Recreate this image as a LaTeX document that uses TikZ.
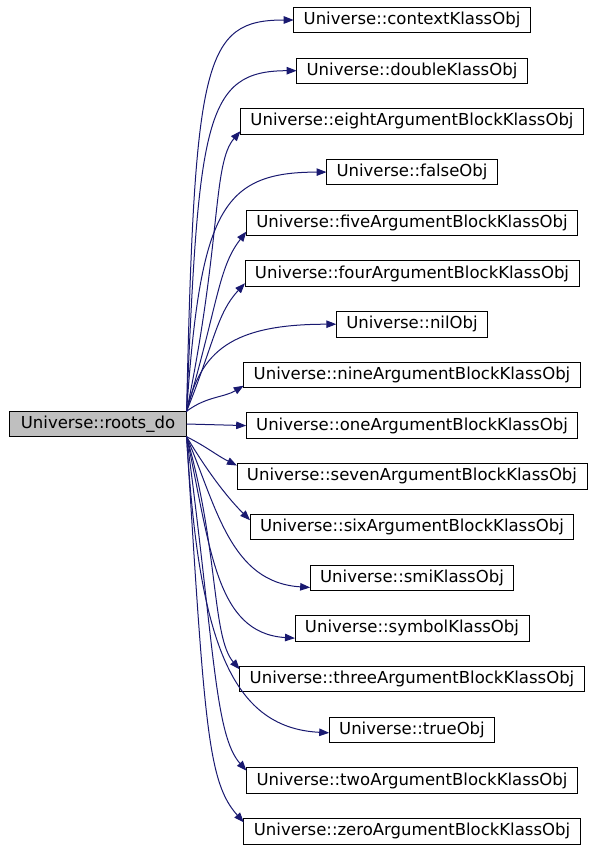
\documentclass[tikz,border=0pt]{standalone}
\usepackage{fontspec}
\setmainfont{DejaVu Sans}
\usetikzlibrary{positioning}
\usetikzlibrary{arrows.meta}
\definecolor{callblue}{RGB}{25,25,112}

\begin{document}
\begin{tikzpicture}[x=1pt,y=-1pt,font=\fontsize{16.5}{19}\selectfont,node distance=25.2pt,
	obj/.style={draw=black,line width=0.9pt,fill=white,minimum height=25.5pt,inner xsep=10pt,inner ysep=1pt,outer sep=0pt},
	call/.style={draw=callblue,line width=1pt,-{Triangle[length=10pt,width=7.5pt]}}]
	\useasboundingbox (0,0) rectangle (596,852);

	\node [obj,fill=gray!50,inner xsep=11.5pt] at (98,424) (roots) {Universe::roots\_do};

	\node [obj] at (412,20) (ctx) {Universe::contextKlassObj};
	\node [obj,below=of ctx] (dbl) {Universe::doubleKlassObj};
	\node [obj,below=of dbl] (eight) {Universe::eightArgumentBlockKlassObj};
	\node [obj,below=of eight] (false) {Universe::falseObj};
	\node [obj,below=of false] (five) {Universe::fiveArgumentBlockKlassObj};
	\node [obj,below=of five] (four) {Universe::fourArgumentBlockKlassObj};
	\node [obj,below=of four] (nil) {Universe::nilObj};
	\node [obj,below=of nil] (nine) {Universe::nineArgumentBlockKlassObj};
	\node [obj,below=of nine] (one) {Universe::oneArgumentBlockKlassObj};
	\node [obj,below=of one] (seven) {Universe::sevenArgumentBlockKlassObj};
	\node [obj,below=of seven] (six) {Universe::sixArgumentBlockKlassObj};
	\node [obj,below=of six] (smi) {Universe::smiKlassObj};
	\node [obj,below=of smi] (sym) {Universe::symbolKlassObj};
	\node [obj,below=of sym] (three) {Universe::threeArgumentBlockKlassObj};
	\node [obj,below=of three] (true) {Universe::trueObj};
	\node [obj,below=of true] (two) {Universe::twoArgumentBlockKlassObj};
	\node [obj,below=of two] (zero) {Universe::zeroArgumentBlockKlassObj};

	% calls going up
	\draw[call] (roots.north east) .. controls +(8,-351) and +(-90,0) .. (ctx.west);
	\draw[call] (roots.north east) .. controls +(12,-290) and +(-92,0) .. (dbl.west);
	\draw[call] (roots.north east) .. controls +(35,-170) and +(-28,32) .. ([yshift=3pt]eight.south west);
	\draw[call] (roots.north east) .. controls +(14,-200) and +(-105,0) .. (false.west);
	\draw[call] (roots.north east) .. controls +(32,-110) and +(-28,36) .. ([yshift=4pt]five.south west);
	\draw[call] (roots.north east) .. controls +(28,-70) and +(-28,30) .. ([yshift=3pt]four.south west);
	\draw[call] (roots.north east) .. controls +(14,-60) and +(-105,0) .. (nil.west);
	\draw[call] (roots.north east) .. controls +(20,-15) and +(-20,12) .. ([yshift=2pt]nine.south west);

	\draw[call] (roots.east) -- (one.west);

	% calls going down
	\draw[call] (roots.south east) .. controls +(20,10) and +(-20,-10) .. ([yshift=-2pt]seven.north west);
	\draw[call] (roots.south east) .. controls +(24,40) and +(-20,-20) .. ([yshift=-6pt]six.north west);
	\draw[call] (roots.south east) .. controls +(30,70) and +(-80,-5) .. ([yshift=3pt]smi.south west);
	\draw[call] (roots.south east) .. controls +(24,110) and +(-80,-5) .. ([yshift=3pt]sym.south west);
	\draw[call] (roots.south east) .. controls +(32,110) and +(-28,-32) .. ([yshift=-3pt]three.north west);
	\draw[call] (roots.south east) .. controls +(12,200) and +(-100,-5) .. ([yshift=-3pt]true.west);
	\draw[call] (roots.south east) .. controls +(28,210) and +(-32,-36) .. ([yshift=-3pt]two.north west);
	\draw[call] (roots.south east) .. controls +(18,290) and +(-36,-40) .. ([yshift=-4pt]zero.north west);
\end{tikzpicture}
\end{document}
